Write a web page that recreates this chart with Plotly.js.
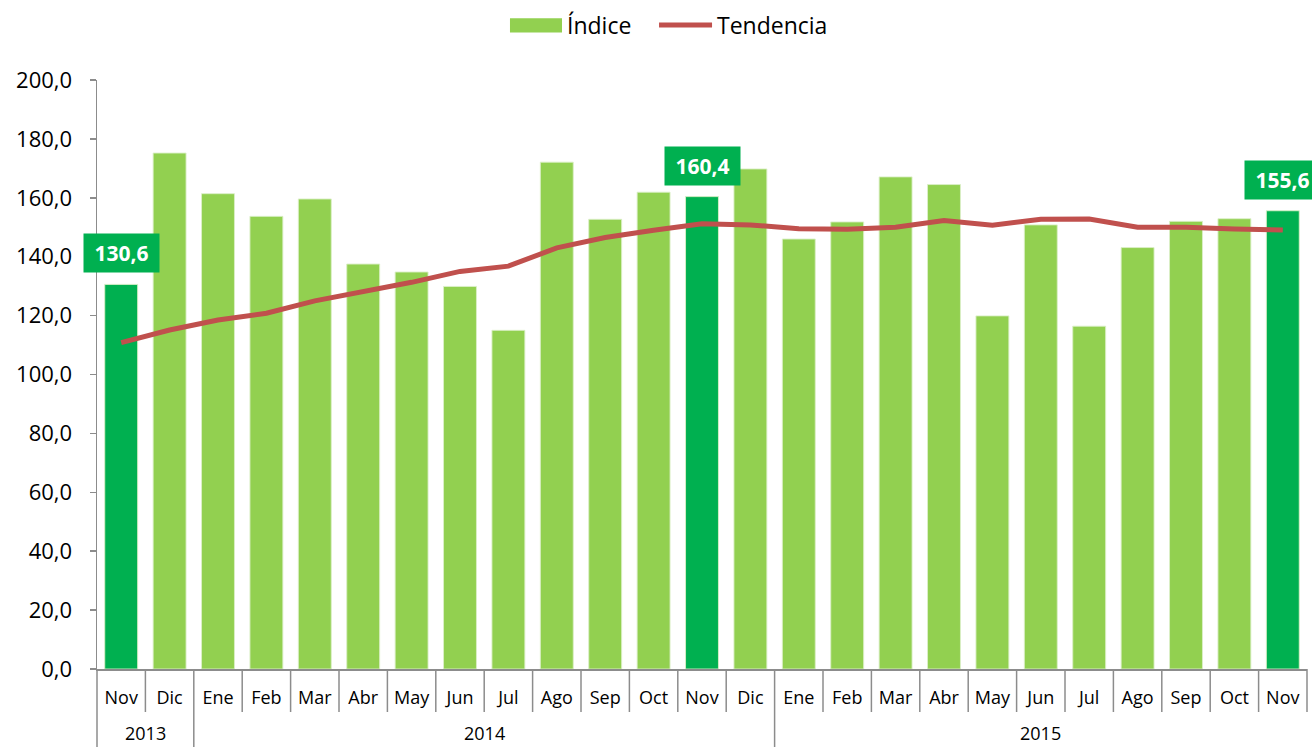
<!DOCTYPE html>
<html>
<head>
<meta charset="utf-8">
<script src="https://cdn.plot.ly/plotly-3.0.1.min.js"></script>
<style>html,body{margin:0;padding:0;background:#fff;}#chart{width:1312px;height:747px;}</style>
</head>
<body>
<div id="chart"></div>
<script>
const years = ["2013","2013","2014","2014","2014","2014","2014","2014","2014","2014","2014","2014","2014","2014","2015","2015","2015","2015","2015","2015","2015","2015","2015","2015","2015"];
const months = ["Nov","Dic","Ene","Feb","Mar","Abr","May","Jun","Jul","Ago","Sep","Oct","Nov","Dic","Ene","Feb","Mar","Abr","May","Jun","Jul","Ago","Sep","Oct","Nov"];
const indice = [130.6,175.2,161.4,153.7,159.6,137.5,134.8,129.9,115.0,172.1,152.7,161.9,160.4,169.8,146.0,151.8,167.1,164.5,119.9,150.8,116.4,143.1,152.0,152.9,155.6];
const tendencia = [110.8,115.1,118.5,120.8,125.0,128.1,131.3,135.0,136.8,143.0,146.5,149.0,151.2,150.8,149.5,149.3,150.0,152.3,150.7,152.7,152.8,150.0,150.0,149.4,149.1];
const highlighted = [0,12,24];

const lightGreen = "#92D050", darkGreen = "#00B050", red = "#C0504D", axisGray = "#8C8C8C";
const FONT = "Open Sans, sans-serif";
const cats = months.map((m,i) => m + " " + years[i]);
const barColors = indice.map((v,i)=> highlighted.includes(i) ? darkGreen : lightGreen);
const fmt = v => v.toFixed(1).replace(".", ",");

const traceBar = {
  type: "bar", name: "Índice", x: cats, y: indice,
  marker: {color: barColors, line: {color: "rgba(220,240,200,0.9)", width: 1}},
  hoverinfo: "skip", showlegend: false
};
const traceLine = {
  type: "scatter", mode: "lines", name: "Tendencia", x: cats, y: tendencia,
  line: {color: red, width: 5}, hoverinfo: "skip", showlegend: false
};

// value labels on highlighted bars
const annotations = highlighted.map(i => ({
  x: cats[i], y: indice[i], xref: "x", yref: "y", text: "<b>" + fmt(indice[i]) + "</b>",
  showarrow: false, yanchor: "bottom", yshift: 11,
  bgcolor: darkGreen, borderpad: 0, width: 75, height: 38,
  font: {family: FONT, size: 21, color: "#fff"}
}));

// year group labels
const yearGroups = [];
years.forEach((y,i) => {
  const g = yearGroups[yearGroups.length-1];
  if (g && g.year === y) g.end = i; else yearGroups.push({year: y, start: i, end: i});
});
yearGroups.forEach(g => {
  annotations.push({
    x: (g.start + g.end) / 2, xref: "x", y: -0.1315, yref: "paper", yanchor: "bottom",
    text: g.year, showarrow: false, borderpad: 0, font: {family: FONT, size: 18, color: "#000"}
  });
});

// legend (drawn manually)
const legendY = 1.0934;
annotations.push({x: 0.3866, y: legendY, xref: "paper", yref: "paper", xanchor: "left", yanchor: "middle",
  text: "Índice", showarrow: false, font: {family: FONT, size: 23, color: "#000"}});
annotations.push({x: 0.5105, y: legendY, xref: "paper", yref: "paper", xanchor: "left", yanchor: "middle",
  text: "Tendencia", showarrow: false, font: {family: FONT, size: 23, color: "#000"}});

const shapes = [
  {type: "rect", xref: "paper", yref: "paper", x0: 0.3413, x1: 0.3843, y0: 1.0806, y1: 1.1050,
   fillcolor: lightGreen, line: {width: 0}},
  {type: "line", xref: "paper", yref: "paper", x0: 0.4645, x1: 0.5083, y0: legendY, y1: legendY,
   line: {color: red, width: 5}}
];
// category separators below the axis
const monthSepLen = -0.073, yearSepLen = -0.14;
for (let i = 1; i < cats.length; i++) {
  const isYear = years[i] !== years[i-1];
  shapes.push({type: "line", xref: "x", yref: "paper", x0: i - 0.5, x1: i - 0.5, y0: 0,
    y1: isYear ? yearSepLen : monthSepLen, line: {color: axisGray, width: 1.5}});
}
shapes.push({type: "line", xref: "paper", yref: "paper", x0: 0, x1: 0, y0: 0, y1: yearSepLen, line: {color: axisGray, width: 1.5}});
shapes.push({type: "line", xref: "paper", yref: "paper", x0: 1, x1: 1, y0: 0, y1: monthSepLen, line: {color: axisGray, width: 1.5}});

const layout = {
  width: 1312, height: 747,
  margin: {l: 97, r: 5, t: 80, b: 78},
  paper_bgcolor: "#fff", plot_bgcolor: "#fff",
  separators: ",.",
  bargap: 0.32,
  showlegend: false,
  font: {family: FONT, color: "#000"},
  xaxis: {
    type: "category", automargin: false,
    tickvals: cats, ticktext: months,
    showline: true, linecolor: axisGray, linewidth: 1.5,
    ticks: "", ticklabelstandoff: 12,
    tickfont: {family: FONT, size: 18, color: "#000"},
    showgrid: false, zeroline: false, range: [-0.5, cats.length - 0.5]
  },
  yaxis: {
    range: [0, 200], dtick: 20, tickformat: ".1f", automargin: false,
    showline: true, linecolor: axisGray, linewidth: 1.5,
    ticks: "outside", ticklen: 6, tickcolor: axisGray, tickwidth: 1.5,
    tickfont: {family: FONT, size: 22, color: "#000"},
    showgrid: false, zeroline: false, ticklabelstandoff: 13
  },
  annotations: annotations,
  shapes: shapes
};

Plotly.newPlot("chart", [traceBar, traceLine], layout, {staticPlot: true, displayModeBar: false});
</script>
</body>
</html>
